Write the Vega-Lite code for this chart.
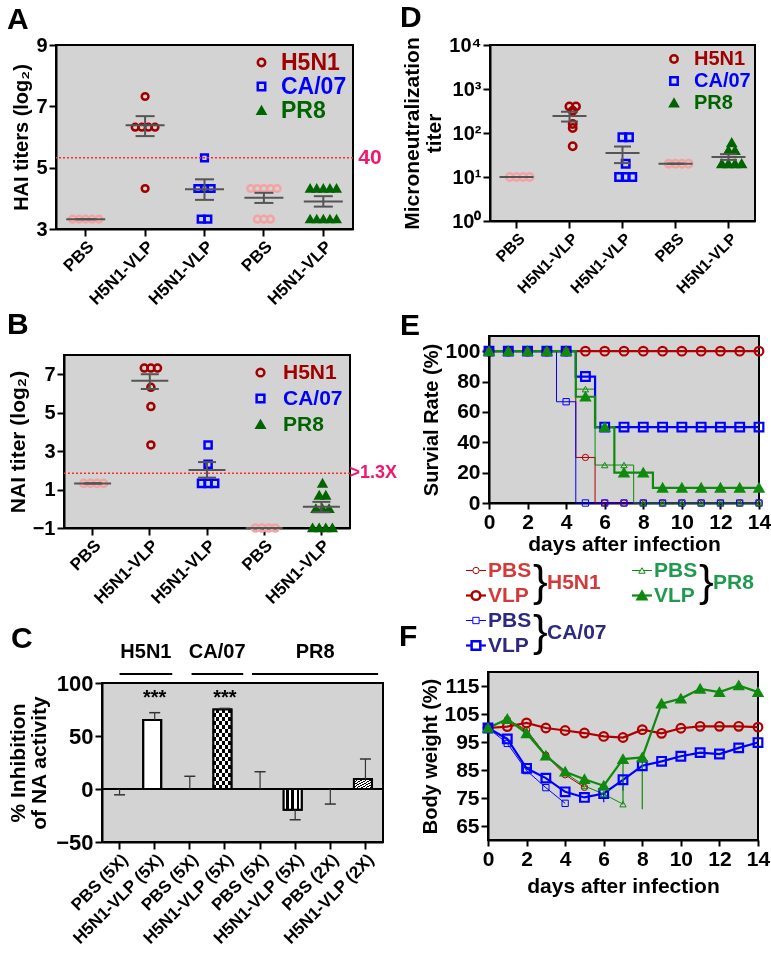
{
"$schema": "https://vega.github.io/schema/vega-lite/v6.json",
"background": "white",
"padding": {"left": 5, "top": 2, "right": 0, "bottom": 5},
"config": {
 "font": "Liberation Sans",
 "view": {"stroke": "black", "strokeWidth": 2, "fill": "#D3D3D3"},
 "axis": {"domainColor": "black", "domainWidth": 2, "tickColor": "black", "tickWidth": 2, "tickSize": 7, "labelColor": "black", "labelFontWeight": "bold", "titleColor": "black", "titleFontWeight": "bold", "grid": false, "labelPadding": 2, "labelFlush": false, "labelOverlap": false},
 "title": {"fontSize": 30, "fontWeight": "bold", "anchor": "start", "frame": "group", "baseline": "alphabetic", "color": "black"}
},
"spacing": 0,
"resolve": {"scale": {"color": "independent", "stroke": "independent", "fill": "independent", "shape": "independent", "size": "independent", "strokeWidth": "independent"}, "legend": {"color": "independent", "stroke": "independent", "fill": "independent", "shape": "independent", "size": "independent", "strokeWidth": "independent"}},
"hconcat": [
{
 "spacing": 0,
 "resolve": {"scale": {"color": "independent", "stroke": "independent", "fill": "independent", "shape": "independent", "size": "independent", "strokeWidth": "independent"}, "legend": {"color": "independent", "stroke": "independent", "fill": "independent", "shape": "independent", "size": "independent", "strokeWidth": "independent"}},
 "vconcat": [
 {
 "spacing": 0,
 "resolve": {"scale": {"color": "independent", "stroke": "independent", "fill": "independent", "shape": "independent", "size": "independent", "strokeWidth": "independent"}, "legend": {"color": "independent", "stroke": "independent", "fill": "independent", "shape": "independent", "size": "independent", "strokeWidth": "independent"}},
 "hconcat": [
 {"width": 1, "height": 1, "view": {"stroke": null, "fill": null}, "data": {"values": [{}]}, "mark": {"type": "point", "opacity": 0, "size": 0, "strokeWidth": 0}, "encoding": {}},
 {
  "width": 297, "height": 184,
  "title": {"text": "A", "dx": -49, "offset": 0},
  "layer": [
   {
    "data": {"values": [
     {"g":"1","s":"PBS","v":3.32},{"g":"1","s":"PBS","v":3.32},{"g":"1","s":"PBS","v":3.32},{"g":"1","s":"PBS","v":3.32},{"g":"1","s":"PBS","v":3.32},
     {"g":"2","s":"H5N1","v":7.32},{"g":"2","s":"H5N1","v":6.32},{"g":"2","s":"H5N1","v":6.32},{"g":"2","s":"H5N1","v":6.32},{"g":"2","s":"H5N1","v":6.32},{"g":"2","s":"H5N1","v":4.32},
     {"g":"3","s":"CA/07","v":5.32},{"g":"3","s":"CA/07","v":4.32},{"g":"3","s":"CA/07","v":4.32},{"g":"3","s":"CA/07","v":4.32},{"g":"3","s":"CA/07","v":3.32},{"g":"3","s":"CA/07","v":3.32},
     {"g":"4","s":"PBS","v":4.32},{"g":"4","s":"PBS","v":4.32},{"g":"4","s":"PBS","v":4.32},{"g":"4","s":"PBS","v":4.32},{"g":"4","s":"PBS","v":4.32},{"g":"4","s":"PBS","v":3.32},{"g":"4","s":"PBS","v":3.32},{"g":"4","s":"PBS","v":3.32},
     {"g":"5","s":"PR8","v":4.32},{"g":"5","s":"PR8","v":4.32},{"g":"5","s":"PR8","v":4.32},{"g":"5","s":"PR8","v":4.32},{"g":"5","s":"PR8","v":4.32},{"g":"5","s":"PR8","v":3.32},{"g":"5","s":"PR8","v":3.32},{"g":"5","s":"PR8","v":3.32},{"g":"5","s":"PR8","v":3.32},{"g":"5","s":"PR8","v":3.32}
    ]},
    "transform": [
     {"window": [{"op": "row_number", "as": "rk"}], "groupby": ["g", "v"]},
     {"joinaggregate": [{"op": "count", "as": "n"}], "groupby": ["g", "v"]},
     {"calculate": "datum.rk - (datum.n + 1) / 2", "as": "off"}
    ],
    "mark": {"type": "point", "size": 45, "strokeWidth": 2.5, "opacity": 1},
    "encoding": {
     "x": {"field": "g", "type": "nominal", "scale": {"type": "band", "domain": ["1","2","3","4","5"], "paddingInner": 0, "paddingOuter": 0}, "axis": {"title": null, "labelAngle": -45, "labelFontSize": 17, "labelExpr": "['PBS','H5N1-VLP','H5N1-VLP','PBS','H5N1-VLP'][toNumber(datum.value)-1]"}},
     "xOffset": {"field": "off", "type": "quantitative", "scale": {"domain": [-4.5, 4.5], "nice": false, "zero": false}},
     "y": {"field": "v", "type": "quantitative", "scale": {"domain": [3, 9], "nice": false, "zero": false}, "axis": {"title": "HAI titers (log₂)", "values": [3,4,5,6,7,8,9], "labelOverlap": false, "labelFontSize": 20, "titleFontSize": 20, "titlePadding": 4}},
     "shape": {"field": "s", "type": "nominal", "scale": {"domain": ["H5N1","CA/07","PR8","PBS"], "range": ["circle","square","triangle-up","circle"]}, "legend": {"title": null, "orient": "top-right", "offset": 6, "padding": 0, "values": ["H5N1","CA/07","PR8"], "labelFontSize": 23, "labelFontWeight": "bold", "labelColor": {"expr": "datum.label == 'H5N1' ? '#A00000' : datum.label == 'CA/07' ? '#0000FF' : '#006400'"}, "symbolSize": 55, "symbolStrokeWidth": 2.5, "symbolOpacity": 1, "rowPadding": 0, "labelOffset": 8}},
     "stroke": {"field": "s", "type": "nominal", "scale": {"domain": ["H5N1","CA/07","PR8","PBS"], "range": ["#A00000","#0000FF","#006400","#F4A3A3"]}, "legend": {"title": null, "orient": "top-right", "offset": 6, "padding": 0, "values": ["H5N1","CA/07","PR8"], "labelFontSize": 23, "labelFontWeight": "bold", "labelColor": {"expr": "datum.label == 'H5N1' ? '#A00000' : datum.label == 'CA/07' ? '#0000FF' : '#006400'"}, "symbolSize": 55, "symbolStrokeWidth": 2.5, "symbolOpacity": 1, "rowPadding": 0, "labelOffset": 8}},
     "fill": {"field": "s", "type": "nominal", "scale": {"domain": ["H5N1","CA/07","PR8","PBS"], "range": ["transparent","transparent","#006400","transparent"]}, "legend": {"title": null, "orient": "top-right", "offset": 6, "padding": 0, "values": ["H5N1","CA/07","PR8"], "labelFontSize": 23, "labelFontWeight": "bold", "labelColor": {"expr": "datum.label == 'H5N1' ? '#A00000' : datum.label == 'CA/07' ? '#0000FF' : '#006400'"}, "symbolSize": 55, "symbolStrokeWidth": 2.5, "symbolOpacity": 1, "rowPadding": 0, "labelOffset": 8}}
    }
   },
   {"data": {"values": [{}]}, "mark": {"type": "rule", "color": "#FF2A2A", "strokeWidth": 1.5, "strokeDash": [2, 2]}, "encoding": {"y": {"datum": 5.32, "type": "quantitative", "scale": {"domain": [3, 9], "nice": false, "zero": false}}}},
   {"data": {"values": [{}]}, "mark": {"type": "text", "align": "left", "baseline": "middle", "dx": 35, "fontSize": 21, "fontWeight": "bold", "color": "#F0186E"}, "encoding": {"x": {"datum": "5", "type": "nominal"}, "y": {"datum": 5.32, "type": "quantitative", "scale": {"domain": [3, 9], "nice": false, "zero": false}}, "text": {"value": "40"}}},
   {
    "data": {"values": [{"g":"1","m":3.32,"lo":3.32,"hi":3.32},{"g":"2","m":6.38,"lo":6.03,"hi":6.68},{"g":"3","m":4.3,"lo":3.95,"hi":4.62},{"g":"4","m":4.02,"lo":3.85,"hi":4.18},{"g":"5","m":3.9,"lo":3.73,"hi":4.07}]},
    "layer": [
     {"mark": {"type": "rule", "color": "#555555", "strokeWidth": 2}, "encoding": {"x": {"field": "g", "type": "nominal"}, "y": {"field": "lo", "type": "quantitative", "scale": {"domain": [3, 9], "nice": false, "zero": false}}, "y2": {"field": "hi"}}},
     {"mark": {"type": "tick", "orient": "horizontal", "size": 39, "thickness": 2, "color": "#555555", "opacity": 1}, "encoding": {"x": {"field": "g", "type": "nominal"}, "y": {"field": "m", "type": "quantitative", "scale": {"domain": [3, 9], "nice": false, "zero": false}}}},
     {"mark": {"type": "tick", "orient": "horizontal", "size": 19, "thickness": 2, "color": "#555555", "opacity": 1}, "encoding": {"x": {"field": "g", "type": "nominal"}, "y": {"field": "lo", "type": "quantitative", "scale": {"domain": [3, 9], "nice": false, "zero": false}}}},
     {"mark": {"type": "tick", "orient": "horizontal", "size": 19, "thickness": 2, "color": "#555555", "opacity": 1}, "encoding": {"x": {"field": "g", "type": "nominal"}, "y": {"field": "hi", "type": "quantitative", "scale": {"domain": [3, 9], "nice": false, "zero": false}}}}
    ]
   }
  ]
 }
 ]
 },
 {
 "spacing": 0,
 "resolve": {"scale": {"color": "independent", "stroke": "independent", "fill": "independent", "shape": "independent", "size": "independent", "strokeWidth": "independent"}, "legend": {"color": "independent", "stroke": "independent", "fill": "independent", "shape": "independent", "size": "independent", "strokeWidth": "independent"}},
 "hconcat": [
 {"width": 1, "height": 1, "view": {"stroke": null, "fill": null}, "data": {"values": [{}]}, "mark": {"type": "point", "opacity": 0, "size": 0, "strokeWidth": 0}, "encoding": {}},
 {
  "width": 286, "height": 173,
  "title": {"text": "B", "dx": -57, "offset": 15},
  "layer": [
   {
    "data": {"values": [
     {"g":"1","s":"PBS","v":1.32},{"g":"1","s":"PBS","v":1.32},{"g":"1","s":"PBS","v":1.32},{"g":"1","s":"PBS","v":1.32},
     {"g":"2","s":"H5N1","v":7.32},{"g":"2","s":"H5N1","v":7.32},{"g":"2","s":"H5N1","v":7.32},{"g":"2","s":"H5N1","v":6.32},{"g":"2","s":"H5N1","v":5.32},{"g":"2","s":"H5N1","v":3.32},
     {"g":"3","s":"CA/07","v":3.32},{"g":"3","s":"CA/07","v":2.32},{"g":"3","s":"CA/07","v":1.32},{"g":"3","s":"CA/07","v":1.32},{"g":"3","s":"CA/07","v":1.32},
     {"g":"4","s":"PBS","v":-1},{"g":"4","s":"PBS","v":-1},{"g":"4","s":"PBS","v":-1},{"g":"4","s":"PBS","v":-1},
     {"g":"5","s":"PR8","v":1.32},{"g":"5","s":"PR8","v":0.7},{"g":"5","s":"PR8","v":0.7},{"g":"5","s":"PR8","v":0},{"g":"5","s":"PR8","v":0},{"g":"5","s":"PR8","v":0},{"g":"5","s":"PR8","v":-1},{"g":"5","s":"PR8","v":-1},{"g":"5","s":"PR8","v":-1},{"g":"5","s":"PR8","v":-1}
    ]},
    "transform": [
     {"window": [{"op": "row_number", "as": "rk"}], "groupby": ["g", "v"]},
     {"joinaggregate": [{"op": "count", "as": "n"}], "groupby": ["g", "v"]},
     {"calculate": "datum.rk - (datum.n + 1) / 2", "as": "off"}
    ],
    "mark": {"type": "point", "size": 50, "strokeWidth": 2.5, "opacity": 1},
    "encoding": {
     "x": {"field": "g", "type": "nominal", "scale": {"type": "band", "domain": ["1","2","3","4","5"], "paddingInner": 0, "paddingOuter": 0}, "axis": {"title": null, "labelAngle": -45, "labelFontSize": 17, "labelExpr": "['PBS','H5N1-VLP','H5N1-VLP','PBS','H5N1-VLP'][toNumber(datum.value)-1]"}},
     "xOffset": {"field": "off", "type": "quantitative", "scale": {"domain": [-3.2, 3.2], "nice": false, "zero": false}},
     "y": {"field": "v", "type": "quantitative", "scale": {"domain": [-1, 8], "nice": false, "zero": false}, "axis": {"title": "NAI titer (log₂)", "values": [-1,0,1,2,3,4,5,6,7,8], "labelOverlap": false, "labelFontSize": 20, "titleFontSize": 21, "titlePadding": 4}},
     "shape": {"field": "s", "type": "nominal", "scale": {"domain": ["H5N1","CA/07","PR8","PBS"], "range": ["circle","square","triangle-up","circle"]}, "legend": {"title": null, "orient": "top-right", "offset": 7, "padding": 0, "values": ["H5N1","CA/07","PR8"], "labelFontSize": 21, "labelFontWeight": "bold", "labelColor": {"expr": "datum.label == 'H5N1' ? '#A00000' : datum.label == 'CA/07' ? '#0000FF' : '#006400'"}, "symbolSize": 60, "symbolStrokeWidth": 2.5, "symbolOpacity": 1, "rowPadding": 4, "labelOffset": 12}},
     "stroke": {"field": "s", "type": "nominal", "scale": {"domain": ["H5N1","CA/07","PR8","PBS"], "range": ["#A00000","#0000FF","#006400","#F4A3A3"]}, "legend": {"title": null, "orient": "top-right", "offset": 7, "padding": 0, "values": ["H5N1","CA/07","PR8"], "labelFontSize": 21, "labelFontWeight": "bold", "labelColor": {"expr": "datum.label == 'H5N1' ? '#A00000' : datum.label == 'CA/07' ? '#0000FF' : '#006400'"}, "symbolSize": 60, "symbolStrokeWidth": 2.5, "symbolOpacity": 1, "rowPadding": 4, "labelOffset": 12}},
     "fill": {"field": "s", "type": "nominal", "scale": {"domain": ["H5N1","CA/07","PR8","PBS"], "range": ["transparent","transparent","#006400","transparent"]}, "legend": {"title": null, "orient": "top-right", "offset": 7, "padding": 0, "values": ["H5N1","CA/07","PR8"], "labelFontSize": 21, "labelFontWeight": "bold", "labelColor": {"expr": "datum.label == 'H5N1' ? '#A00000' : datum.label == 'CA/07' ? '#0000FF' : '#006400'"}, "symbolSize": 60, "symbolStrokeWidth": 2.5, "symbolOpacity": 1, "rowPadding": 4, "labelOffset": 12}}
    }
   },
   {"data": {"values": [{}]}, "mark": {"type": "rule", "color": "#FF2A2A", "strokeWidth": 1.5, "strokeDash": [2, 2]}, "encoding": {"y": {"datum": 1.85, "type": "quantitative", "scale": {"domain": [-1, 8], "nice": false, "zero": false}}}},
   {"data": {"values": [{}]}, "mark": {"type": "text", "align": "left", "baseline": "middle", "dx": 28, "fontSize": 18, "fontWeight": "bold", "color": "#F0186E"}, "encoding": {"x": {"datum": "5", "type": "nominal"}, "y": {"datum": 1.85, "type": "quantitative", "scale": {"domain": [-1, 8], "nice": false, "zero": false}}, "text": {"value": ">1.3X"}}},
   {
    "data": {"values": [{"g":"1","m":1.32,"lo":1.32,"hi":1.32},{"g":"2","m":6.66,"lo":6.23,"hi":7.0},{"g":"3","m":2.02,"lo":1.62,"hi":2.43},{"g":"4","m":-1,"lo":-1,"hi":-1},{"g":"5","m":0.1,"lo":-0.18,"hi":0.36}]},
    "layer": [
     {"mark": {"type": "rule", "color": "#555555", "strokeWidth": 2}, "encoding": {"x": {"field": "g", "type": "nominal"}, "y": {"field": "lo", "type": "quantitative", "scale": {"domain": [-1, 8], "nice": false, "zero": false}}, "y2": {"field": "hi"}}},
     {"mark": {"type": "tick", "orient": "horizontal", "size": 37, "thickness": 2, "color": "#555555", "opacity": 1}, "encoding": {"x": {"field": "g", "type": "nominal"}, "y": {"field": "m", "type": "quantitative", "scale": {"domain": [-1, 8], "nice": false, "zero": false}}}},
     {"mark": {"type": "tick", "orient": "horizontal", "size": 18, "thickness": 2, "color": "#555555", "opacity": 1}, "encoding": {"x": {"field": "g", "type": "nominal"}, "y": {"field": "lo", "type": "quantitative", "scale": {"domain": [-1, 8], "nice": false, "zero": false}}}},
     {"mark": {"type": "tick", "orient": "horizontal", "size": 18, "thickness": 2, "color": "#555555", "opacity": 1}, "encoding": {"x": {"field": "g", "type": "nominal"}, "y": {"field": "hi", "type": "quantitative", "scale": {"domain": [-1, 8], "nice": false, "zero": false}}}}
    ]
   }
  ]
 }
 ]
 },
 {
 "spacing": 0,
 "resolve": {"scale": {"color": "independent", "stroke": "independent", "fill": "independent", "shape": "independent", "size": "independent", "strokeWidth": "independent"}, "legend": {"color": "independent", "stroke": "independent", "fill": "independent", "shape": "independent", "size": "independent", "strokeWidth": "independent"}},
 "hconcat": [
 {"width": 1, "height": 1, "view": {"stroke": null, "fill": null}, "data": {"values": [{}]}, "mark": {"type": "point", "opacity": 0, "size": 0, "strokeWidth": 0}, "encoding": {}},
 {
  "spacing": -4,
  "resolve": {"scale": {"color": "independent", "stroke": "independent", "fill": "independent", "shape": "independent", "size": "independent", "strokeWidth": "independent"}},
  "vconcat": [
   {
    "width": 281, "height": 66,
    "view": {"stroke": null, "fill": null},
    "title": {"text": "C", "dx": -91, "offset": -46},
    "data": {"values": [{"lab":"H5N1","a":0.5,"b":2.0,"m":1.25},{"lab":"CA/07","a":2.55,"b":4.02,"m":3.28},{"lab":"PR8","a":4.27,"b":7.86,"m":6.07}]},
    "layer": [
     {"mark": {"type": "rule", "strokeWidth": 2, "color": "black"}, "encoding": {"x": {"field": "a", "type": "quantitative", "scale": {"domain": [0, 8], "nice": false, "zero": false}, "axis": null}, "x2": {"field": "b"}, "y": {"datum": 0, "type": "quantitative", "scale": {"domain": [0, 1]}, "axis": null}}},
     {"mark": {"type": "text", "fontSize": 20, "fontWeight": "bold", "baseline": "alphabetic", "dy": -16, "color": "black"}, "encoding": {"x": {"field": "m", "type": "quantitative", "scale": {"domain": [0, 8], "nice": false, "zero": false}, "axis": null}, "y": {"datum": 0, "type": "quantitative", "scale": {"domain": [0, 1]}, "axis": null}, "text": {"field": "lab"}}}
    ]
   },
   {
    "width": 281, "height": 159,
    "data": {"values": [{"id":"1","v":0,"e":-5.5},{"id":"2","v":65,"e":72,"sig":"***"},{"id":"3","v":0,"e":12},{"id":"4","v":75,"e":76,"sig":"***"},{"id":"5","v":0,"e":16.3},{"id":"6","v":-19.5,"e":-29},{"id":"7","v":0,"e":-14.2},{"id":"8","v":9.5,"e":28.3}]},
    "layer": [
     {"transform": [{"filter": "datum.v != 0"}], "mark": {"type": "bar", "fill": "white", "stroke": "black", "strokeWidth": 2},
      "encoding": {
       "x": {"field": "id", "type": "nominal", "scale": {"type": "band", "domain": ["1","2","3","4","5","6","7","8"], "paddingInner": 0.345, "paddingOuter": 0.1725}, "axis": {"title": null, "labelAngle": -45, "labelFontSize": 17, "labelExpr": "['PBS (5X)','H5N1-VLP (5X)','PBS (5X)','H5N1-VLP (5X)','PBS (5X)','H5N1-VLP (5X)','PBS (2X)','H5N1-VLP (2X)'][toNumber(datum.value)-1]"}},
       "y": {"field": "v", "type": "quantitative", "scale": {"domain": [-50, 100], "nice": false, "zero": false}, "axis": {"title": ["% Inhibition", "of NA activity"], "values": [-50, 0, 50, 100], "labelOverlap": false, "labelFontSize": 22, "titleFontSize": 21, "titleLineHeight": 21, "titlePadding": 6}}
      }},
     {"transform": [{"filter": "datum.id == '4'"}], "mark": {"type": "bar", "strokeWidth": 0, "fill": {"gradient": "linear", "x1": 0, "y1": 0, "x2": 1, "y2": 0, "stops": [{"offset": 0, "color": "black"}, {"offset": 0.1667, "color": "black"}, {"offset": 0.1667, "color": "white"}, {"offset": 0.3333, "color": "white"}, {"offset": 0.3333, "color": "black"}, {"offset": 0.5, "color": "black"}, {"offset": 0.5, "color": "white"}, {"offset": 0.6667, "color": "white"}, {"offset": 0.6667, "color": "black"}, {"offset": 0.8333, "color": "black"}, {"offset": 0.8333, "color": "white"}, {"offset": 1, "color": "white"}]}},
      "encoding": {"x": {"field": "id", "type": "nominal"}, "y": {"field": "v", "type": "quantitative", "scale": {"domain": [-50, 100], "nice": false, "zero": false}}}},
     {"transform": [{"filter": "datum.id == '4'"}], "mark": {"type": "bar", "strokeWidth": 0, "blend": "difference", "fill": {"gradient": "linear", "x1": 0, "y1": 0, "x2": 0, "y2": 1, "stops": [{"offset": 0, "color": "white"}, {"offset": 0.05, "color": "white"}, {"offset": 0.05, "color": "rgba(0,0,0,0)"}, {"offset": 0.1, "color": "rgba(0,0,0,0)"}, {"offset": 0.1, "color": "white"}, {"offset": 0.15, "color": "white"}, {"offset": 0.15, "color": "rgba(0,0,0,0)"}, {"offset": 0.2, "color": "rgba(0,0,0,0)"}, {"offset": 0.2, "color": "white"}, {"offset": 0.25, "color": "white"}, {"offset": 0.25, "color": "rgba(0,0,0,0)"}, {"offset": 0.3, "color": "rgba(0,0,0,0)"}, {"offset": 0.3, "color": "white"}, {"offset": 0.35, "color": "white"}, {"offset": 0.35, "color": "rgba(0,0,0,0)"}, {"offset": 0.4, "color": "rgba(0,0,0,0)"}, {"offset": 0.4, "color": "white"}, {"offset": 0.45, "color": "white"}, {"offset": 0.45, "color": "rgba(0,0,0,0)"}, {"offset": 0.5, "color": "rgba(0,0,0,0)"}, {"offset": 0.5, "color": "white"}, {"offset": 0.55, "color": "white"}, {"offset": 0.55, "color": "rgba(0,0,0,0)"}, {"offset": 0.6, "color": "rgba(0,0,0,0)"}, {"offset": 0.6, "color": "white"}, {"offset": 0.65, "color": "white"}, {"offset": 0.65, "color": "rgba(0,0,0,0)"}, {"offset": 0.7, "color": "rgba(0,0,0,0)"}, {"offset": 0.7, "color": "white"}, {"offset": 0.75, "color": "white"}, {"offset": 0.75, "color": "rgba(0,0,0,0)"}, {"offset": 0.8, "color": "rgba(0,0,0,0)"}, {"offset": 0.8, "color": "white"}, {"offset": 0.85, "color": "white"}, {"offset": 0.85, "color": "rgba(0,0,0,0)"}, {"offset": 0.9, "color": "rgba(0,0,0,0)"}, {"offset": 0.9, "color": "white"}, {"offset": 0.95, "color": "white"}, {"offset": 0.95, "color": "rgba(0,0,0,0)"}, {"offset": 1, "color": "rgba(0,0,0,0)"}]}},
      "encoding": {"x": {"field": "id", "type": "nominal"}, "y": {"field": "v", "type": "quantitative", "scale": {"domain": [-50, 100], "nice": false, "zero": false}}}},
     {"transform": [{"filter": "datum.id == '6'"}], "mark": {"type": "bar", "strokeWidth": 0, "fill": {"gradient": "linear", "x1": 0, "y1": 0, "x2": 1, "y2": 0, "stops": [{"offset": 0, "color": "white"}, {"offset": 0.143, "color": "white"}, {"offset": 0.143, "color": "black"}, {"offset": 0.286, "color": "black"}, {"offset": 0.286, "color": "white"}, {"offset": 0.429, "color": "white"}, {"offset": 0.429, "color": "black"}, {"offset": 0.571, "color": "black"}, {"offset": 0.571, "color": "white"}, {"offset": 0.714, "color": "white"}, {"offset": 0.714, "color": "black"}, {"offset": 0.857, "color": "black"}, {"offset": 0.857, "color": "white"}, {"offset": 1, "color": "white"}]}},
      "encoding": {"x": {"field": "id", "type": "nominal"}, "y": {"field": "v", "type": "quantitative", "scale": {"domain": [-50, 100], "nice": false, "zero": false}}}},
     {"transform": [{"filter": "datum.id == '8'"}], "mark": {"type": "bar", "strokeWidth": 0, "fill": {"gradient": "linear", "x1": 0, "y1": 0, "x2": 1, "y2": 1, "stops": [{"offset": 0, "color": "black"}, {"offset": 0.05, "color": "black"}, {"offset": 0.05, "color": "white"}, {"offset": 0.125, "color": "white"}, {"offset": 0.125, "color": "black"}, {"offset": 0.175, "color": "black"}, {"offset": 0.175, "color": "white"}, {"offset": 0.25, "color": "white"}, {"offset": 0.25, "color": "black"}, {"offset": 0.3, "color": "black"}, {"offset": 0.3, "color": "white"}, {"offset": 0.375, "color": "white"}, {"offset": 0.375, "color": "black"}, {"offset": 0.425, "color": "black"}, {"offset": 0.425, "color": "white"}, {"offset": 0.5, "color": "white"}, {"offset": 0.5, "color": "black"}, {"offset": 0.55, "color": "black"}, {"offset": 0.55, "color": "white"}, {"offset": 0.625, "color": "white"}, {"offset": 0.625, "color": "black"}, {"offset": 0.675, "color": "black"}, {"offset": 0.675, "color": "white"}, {"offset": 0.75, "color": "white"}, {"offset": 0.75, "color": "black"}, {"offset": 0.8, "color": "black"}, {"offset": 0.8, "color": "white"}, {"offset": 0.875, "color": "white"}, {"offset": 0.875, "color": "black"}, {"offset": 0.925, "color": "black"}, {"offset": 0.925, "color": "white"}, {"offset": 1, "color": "white"}]}},
      "encoding": {"x": {"field": "id", "type": "nominal"}, "y": {"field": "v", "type": "quantitative", "scale": {"domain": [-50, 100], "nice": false, "zero": false}}}},
     {"transform": [{"filter": "datum.v != 0"}], "mark": {"type": "bar", "fill": "transparent", "stroke": "black", "strokeWidth": 2},
      "encoding": {"x": {"field": "id", "type": "nominal"}, "y": {"field": "v", "type": "quantitative", "scale": {"domain": [-50, 100], "nice": false, "zero": false}}}},
     {"mark": {"type": "rule", "color": "black", "strokeWidth": 2}, "encoding": {"y": {"datum": 0, "type": "quantitative", "scale": {"domain": [-50, 100], "nice": false, "zero": false}}}},
     {"mark": {"type": "rule", "color": "#333333", "strokeWidth": 1.2}, "encoding": {"x": {"field": "id", "type": "nominal"}, "y": {"field": "v", "type": "quantitative", "scale": {"domain": [-50, 100], "nice": false, "zero": false}}, "y2": {"field": "e"}}},
     {"mark": {"type": "tick", "orient": "horizontal", "size": 11, "thickness": 1.5, "color": "#333333", "opacity": 1}, "encoding": {"x": {"field": "id", "type": "nominal"}, "y": {"field": "e", "type": "quantitative", "scale": {"domain": [-50, 100], "nice": false, "zero": false}}}},
     {"transform": [{"filter": "datum.sig"}], "mark": {"type": "text", "fontSize": 20, "fontWeight": "bold", "baseline": "middle", "color": "black"}, "encoding": {"x": {"field": "id", "type": "nominal"}, "y": {"datum": 86, "type": "quantitative", "scale": {"domain": [-50, 100], "nice": false, "zero": false}}, "text": {"field": "sig"}}}
    ]
   }
  ]
 }
 ]
 }
 ]
},
{
 "spacing": 12,
 "resolve": {"scale": {"color": "independent", "stroke": "independent", "fill": "independent", "shape": "independent", "size": "independent", "strokeWidth": "independent"}, "legend": {"color": "independent", "stroke": "independent", "fill": "independent", "shape": "independent", "size": "independent", "strokeWidth": "independent"}},
 "vconcat": [
 {
 "spacing": 0,
 "resolve": {"scale": {"color": "independent", "stroke": "independent", "fill": "independent", "shape": "independent", "size": "independent", "strokeWidth": "independent"}, "legend": {"color": "independent", "stroke": "independent", "fill": "independent", "shape": "independent", "size": "independent", "strokeWidth": "independent"}},
 "hconcat": [
 {"width": 1, "height": 1, "view": {"stroke": null, "fill": null}, "data": {"values": [{}]}, "mark": {"type": "point", "opacity": 0, "size": 0, "strokeWidth": 0}, "encoding": {}},
 {
  "width": 265, "height": 176,
  "title": {"text": "D", "dx": -90, "offset": 2},
  "layer": [
   {
    "data": {"values": [
     {"g":"1","s":"PBS","v":10},{"g":"1","s":"PBS","v":10},{"g":"1","s":"PBS","v":10},{"g":"1","s":"PBS","v":10},
     {"g":"2","s":"H5N1","v":400},{"g":"2","s":"H5N1","v":400},{"g":"2","s":"H5N1","v":320},{"g":"2","s":"H5N1","v":160},{"g":"2","s":"H5N1","v":130},{"g":"2","s":"H5N1","v":50},
     {"g":"3","s":"CA/07","v":80},{"g":"3","s":"CA/07","v":80},{"g":"3","s":"CA/07","v":20},{"g":"3","s":"CA/07","v":10},{"g":"3","s":"CA/07","v":10},{"g":"3","s":"CA/07","v":10},
     {"g":"4","s":"PBS","v":20},{"g":"4","s":"PBS","v":20},{"g":"4","s":"PBS","v":20},{"g":"4","s":"PBS","v":20},
     {"g":"5","s":"PR8","v":40},{"g":"5","s":"PR8","v":40},{"g":"5","s":"PR8","v":60},{"g":"5","s":"PR8","v":20},{"g":"5","s":"PR8","v":20},{"g":"5","s":"PR8","v":20},{"g":"5","s":"PR8","v":20}
    ]},
    "transform": [
     {"window": [{"op": "row_number", "as": "rk"}], "groupby": ["g", "v"]},
     {"joinaggregate": [{"op": "count", "as": "n"}], "groupby": ["g", "v"]},
     {"calculate": "datum.rk - (datum.n + 1) / 2", "as": "off"}
    ],
    "mark": {"type": "point", "size": 55, "strokeWidth": 2.5, "opacity": 1},
    "encoding": {
     "x": {"field": "g", "type": "nominal", "scale": {"type": "band", "domain": ["1","2","3","4","5"], "paddingInner": 0, "paddingOuter": 0}, "axis": {"title": null, "labelAngle": -45, "labelFontSize": 16, "labelExpr": "['PBS','H5N1-VLP','H5N1-VLP','PBS','H5N1-VLP'][toNumber(datum.value)-1]"}},
     "xOffset": {"field": "off", "type": "quantitative", "scale": {"domain": [-3, 3], "nice": false, "zero": false}},
     "y": {"field": "v", "type": "quantitative", "scale": {"type": "log", "domain": [1, 10000], "nice": false}, "axis": {"title": ["Microneutralization", "titer"], "values": [1, 10, 100, 1000, 10000], "labelOverlap": false, "labelExpr": "'10' + ['⁰','¹','²','³','⁴'][round(log(datum.value)/LN10)]", "labelFontSize": 20, "titleFontSize": 21, "titleLineHeight": 22, "titlePadding": 4}},
     "shape": {"field": "s", "type": "nominal", "scale": {"domain": ["H5N1","CA/07","PR8","PBS"], "range": ["circle","square","triangle-up","circle"]}, "legend": {"title": null, "orient": "top-right", "offset": 4, "padding": 0, "values": ["H5N1","CA/07","PR8"], "labelFontSize": 20, "labelFontWeight": "bold", "labelColor": {"expr": "datum.label == 'H5N1' ? '#A00000' : datum.label == 'CA/07' ? '#0000FF' : '#006400'"}, "symbolSize": 55, "symbolStrokeWidth": 2.5, "symbolOpacity": 1, "rowPadding": 2, "labelOffset": 10}},
     "stroke": {"field": "s", "type": "nominal", "scale": {"domain": ["H5N1","CA/07","PR8","PBS"], "range": ["#A00000","#0000FF","#006400","#F4A3A3"]}, "legend": {"title": null, "orient": "top-right", "offset": 4, "padding": 0, "values": ["H5N1","CA/07","PR8"], "labelFontSize": 20, "labelFontWeight": "bold", "labelColor": {"expr": "datum.label == 'H5N1' ? '#A00000' : datum.label == 'CA/07' ? '#0000FF' : '#006400'"}, "symbolSize": 55, "symbolStrokeWidth": 2.5, "symbolOpacity": 1, "rowPadding": 2, "labelOffset": 10}},
     "fill": {"field": "s", "type": "nominal", "scale": {"domain": ["H5N1","CA/07","PR8","PBS"], "range": ["transparent","transparent","#006400","transparent"]}, "legend": {"title": null, "orient": "top-right", "offset": 4, "padding": 0, "values": ["H5N1","CA/07","PR8"], "labelFontSize": 20, "labelFontWeight": "bold", "labelColor": {"expr": "datum.label == 'H5N1' ? '#A00000' : datum.label == 'CA/07' ? '#0000FF' : '#006400'"}, "symbolSize": 55, "symbolStrokeWidth": 2.5, "symbolOpacity": 1, "rowPadding": 2, "labelOffset": 10}}
    }
   },
   {
    "data": {"values": [{"g":"1","m":10,"lo":10,"hi":10},{"g":"2","m":243,"lo":182,"hi":304},{"g":"3","m":35,"lo":20.7,"hi":49.3},{"g":"4","m":20,"lo":20,"hi":20},{"g":"5","m":28.5,"lo":24.5,"hi":33}]},
    "layer": [
     {"mark": {"type": "rule", "color": "#555555", "strokeWidth": 2}, "encoding": {"x": {"field": "g", "type": "nominal"}, "y": {"field": "lo", "type": "quantitative", "scale": {"type": "log", "domain": [1, 10000], "nice": false}}, "y2": {"field": "hi"}}},
     {"mark": {"type": "tick", "orient": "horizontal", "size": 34, "thickness": 2, "color": "#555555", "opacity": 1}, "encoding": {"x": {"field": "g", "type": "nominal"}, "y": {"field": "m", "type": "quantitative", "scale": {"type": "log", "domain": [1, 10000], "nice": false}}}},
     {"mark": {"type": "tick", "orient": "horizontal", "size": 17, "thickness": 2, "color": "#555555", "opacity": 1}, "encoding": {"x": {"field": "g", "type": "nominal"}, "y": {"field": "lo", "type": "quantitative", "scale": {"type": "log", "domain": [1, 10000], "nice": false}}}},
     {"mark": {"type": "tick", "orient": "horizontal", "size": 17, "thickness": 2, "color": "#555555", "opacity": 1}, "encoding": {"x": {"field": "g", "type": "nominal"}, "y": {"field": "hi", "type": "quantitative", "scale": {"type": "log", "domain": [1, 10000], "nice": false}}}}
    ]
   }
  ]
 }
 ]
 },
 {
  "spacing": 3,
  "resolve": {"scale": {"color": "independent", "stroke": "independent", "fill": "independent", "shape": "independent", "size": "independent", "strokeWidth": "independent"}, "legend": {"color": "independent", "stroke": "independent", "fill": "independent", "shape": "independent", "size": "independent", "strokeWidth": "independent"}},
  "vconcat": [
  {
  "spacing": 0,
  "resolve": {"scale": {"color": "independent", "stroke": "independent", "fill": "independent", "shape": "independent", "size": "independent", "strokeWidth": "independent"}, "legend": {"color": "independent", "stroke": "independent", "fill": "independent", "shape": "independent", "size": "independent", "strokeWidth": "independent"}},
  "hconcat": [
  {"width": 1, "height": 1, "view": {"stroke": null, "fill": null}, "data": {"values": [{}]}, "mark": {"type": "point", "opacity": 0, "size": 0, "strokeWidth": 0}, "encoding": {}},
  {
   "width": 270, "height": 167,
   "title": {"text": "E", "dx": -89, "offset": -5},
   "data": {"values": [
    {"grp":"H5N1","trt":"PBS","d":0,"p":100},{"grp":"H5N1","trt":"PBS","d":1,"p":100},{"grp":"H5N1","trt":"PBS","d":2,"p":100},{"grp":"H5N1","trt":"PBS","d":3,"p":100},{"grp":"H5N1","trt":"PBS","d":4,"p":100},{"grp":"H5N1","trt":"PBS","d":5,"p":30},{"grp":"H5N1","trt":"PBS","d":6,"p":0},{"grp":"H5N1","trt":"PBS","d":7,"p":0},{"grp":"H5N1","trt":"PBS","d":8,"p":0},{"grp":"H5N1","trt":"PBS","d":9,"p":0},{"grp":"H5N1","trt":"PBS","d":10,"p":0},{"grp":"H5N1","trt":"PBS","d":11,"p":0},{"grp":"H5N1","trt":"PBS","d":12,"p":0},{"grp":"H5N1","trt":"PBS","d":13,"p":0},{"grp":"H5N1","trt":"PBS","d":14,"p":0},
    {"grp":"CA/07","trt":"PBS","d":0,"p":100},{"grp":"CA/07","trt":"PBS","d":1,"p":100},{"grp":"CA/07","trt":"PBS","d":2,"p":100},{"grp":"CA/07","trt":"PBS","d":3,"p":100},{"grp":"CA/07","trt":"PBS","d":4,"p":66.7},{"grp":"CA/07","trt":"PBS","d":5,"p":0},{"grp":"CA/07","trt":"PBS","d":6,"p":0},{"grp":"CA/07","trt":"PBS","d":7,"p":0},{"grp":"CA/07","trt":"PBS","d":8,"p":0},{"grp":"CA/07","trt":"PBS","d":9,"p":0},{"grp":"CA/07","trt":"PBS","d":10,"p":0},{"grp":"CA/07","trt":"PBS","d":11,"p":0},{"grp":"CA/07","trt":"PBS","d":12,"p":0},{"grp":"CA/07","trt":"PBS","d":13,"p":0},{"grp":"CA/07","trt":"PBS","d":14,"p":0},
    {"grp":"PR8","trt":"PBS","d":0,"p":100},{"grp":"PR8","trt":"PBS","d":1,"p":100},{"grp":"PR8","trt":"PBS","d":2,"p":100},{"grp":"PR8","trt":"PBS","d":3,"p":100},{"grp":"PR8","trt":"PBS","d":4,"p":100},{"grp":"PR8","trt":"PBS","d":5,"p":75},{"grp":"PR8","trt":"PBS","d":6,"p":25},{"grp":"PR8","trt":"PBS","d":7,"p":25},{"grp":"PR8","trt":"PBS","d":8,"p":0},{"grp":"PR8","trt":"PBS","d":9,"p":0},{"grp":"PR8","trt":"PBS","d":10,"p":0},{"grp":"PR8","trt":"PBS","d":11,"p":0},{"grp":"PR8","trt":"PBS","d":12,"p":0},{"grp":"PR8","trt":"PBS","d":13,"p":0},{"grp":"PR8","trt":"PBS","d":14,"p":0},
    {"grp":"H5N1","trt":"VLP","d":0,"p":100},{"grp":"H5N1","trt":"VLP","d":1,"p":100},{"grp":"H5N1","trt":"VLP","d":2,"p":100},{"grp":"H5N1","trt":"VLP","d":3,"p":100},{"grp":"H5N1","trt":"VLP","d":4,"p":100},{"grp":"H5N1","trt":"VLP","d":5,"p":100},{"grp":"H5N1","trt":"VLP","d":6,"p":100},{"grp":"H5N1","trt":"VLP","d":7,"p":100},{"grp":"H5N1","trt":"VLP","d":8,"p":100},{"grp":"H5N1","trt":"VLP","d":9,"p":100},{"grp":"H5N1","trt":"VLP","d":10,"p":100},{"grp":"H5N1","trt":"VLP","d":11,"p":100},{"grp":"H5N1","trt":"VLP","d":12,"p":100},{"grp":"H5N1","trt":"VLP","d":13,"p":100},{"grp":"H5N1","trt":"VLP","d":14,"p":100},
    {"grp":"CA/07","trt":"VLP","d":0,"p":100},{"grp":"CA/07","trt":"VLP","d":1,"p":100},{"grp":"CA/07","trt":"VLP","d":2,"p":100},{"grp":"CA/07","trt":"VLP","d":3,"p":100},{"grp":"CA/07","trt":"VLP","d":4,"p":100},{"grp":"CA/07","trt":"VLP","d":5,"p":83.3},{"grp":"CA/07","trt":"VLP","d":6,"p":50},{"grp":"CA/07","trt":"VLP","d":7,"p":50},{"grp":"CA/07","trt":"VLP","d":8,"p":50},{"grp":"CA/07","trt":"VLP","d":9,"p":50},{"grp":"CA/07","trt":"VLP","d":10,"p":50},{"grp":"CA/07","trt":"VLP","d":11,"p":50},{"grp":"CA/07","trt":"VLP","d":12,"p":50},{"grp":"CA/07","trt":"VLP","d":13,"p":50},{"grp":"CA/07","trt":"VLP","d":14,"p":50},
    {"grp":"PR8","trt":"VLP","d":0,"p":100},{"grp":"PR8","trt":"VLP","d":1,"p":100},{"grp":"PR8","trt":"VLP","d":2,"p":100},{"grp":"PR8","trt":"VLP","d":3,"p":100},{"grp":"PR8","trt":"VLP","d":4,"p":100},{"grp":"PR8","trt":"VLP","d":5,"p":70},{"grp":"PR8","trt":"VLP","d":6,"p":50},{"grp":"PR8","trt":"VLP","d":7,"p":20},{"grp":"PR8","trt":"VLP","d":8,"p":20},{"grp":"PR8","trt":"VLP","d":9,"p":10},{"grp":"PR8","trt":"VLP","d":10,"p":10},{"grp":"PR8","trt":"VLP","d":11,"p":10},{"grp":"PR8","trt":"VLP","d":12,"p":10},{"grp":"PR8","trt":"VLP","d":13,"p":10},{"grp":"PR8","trt":"VLP","d":14,"p":10}
   ]},
   "encoding": {
    "x": {"field": "d", "type": "quantitative", "scale": {"domain": [0, 14], "nice": false, "zero": false}, "axis": {"title": "days after infection", "values": [0,2,4,6,8,10,12,14], "labelFontSize": 21, "titleFontSize": 21, "titlePadding": 1, "tickSize": 6}},
    "y": {"field": "p", "type": "quantitative", "scale": {"domain": [0, 110], "nice": false}, "axis": {"title": "Survial Rate (%)", "values": [0,20,40,60,80,100], "labelFontSize": 21, "titleFontSize": 20, "titlePadding": 3}}
   },
   "layer": [
    {"mark": {"type": "line", "interpolate": "step"}, "encoding": {
      "detail": {"field": "trt", "type": "nominal"},
      "stroke": {"field": "grp", "type": "nominal", "scale": {"domain": ["H5N1","CA/07","PR8"], "range": ["#B00000","#0000FF","#0F8A0F"]}, "legend": null},
      "strokeWidth": {"field": "trt", "type": "ordinal", "scale": {"domain": ["PBS","VLP"], "range": [1, 2.2]}, "legend": null}}},
    {"mark": {"type": "point", "opacity": 1}, "encoding": {
      "shape": {"field": "grp", "type": "nominal", "scale": {"domain": ["H5N1","CA/07","PR8"], "range": ["circle","square","triangle-up"]}, "legend": null},
      "stroke": {"field": "grp", "type": "nominal", "scale": {"domain": ["H5N1","CA/07","PR8"], "range": ["#B00000","#0000FF","#0F8A0F"]}, "legend": null},
      "strokeWidth": {"field": "trt", "type": "ordinal", "scale": {"domain": ["PBS","VLP"], "range": [1, 2.2]}, "legend": null},
      "size": {"field": "trt", "type": "ordinal", "scale": {"domain": ["PBS","VLP"], "range": [40, 75]}, "legend": null},
      "fill": {"condition": {"test": "datum.grp == 'PR8' && datum.trt == 'VLP'", "value": "#0F8A0F"}, "value": "transparent"}}}
   ]
  }
  ]
  },
  {
   "spacing": 11,
   "resolve": {"scale": {"color": "independent", "stroke": "independent", "fill": "independent", "shape": "independent", "size": "independent", "strokeWidth": "independent"}, "legend": {"color": "independent", "stroke": "independent", "fill": "independent", "shape": "independent", "size": "independent", "strokeWidth": "independent"}},
   "vconcat": [
    {
    "spacing": 0,
    "resolve": {"scale": {"color": "independent", "stroke": "independent", "fill": "independent", "shape": "independent", "size": "independent", "strokeWidth": "independent"}},
    "hconcat": [
    {"width": 1, "height": 1, "view": {"stroke": null, "fill": null}, "data": {"values": [{}]}, "mark": {"type": "point", "opacity": 0, "size": 0, "strokeWidth": 0}, "encoding": {}},
    {
     "width": 290, "height": 100,
     "view": {"stroke": null, "fill": null},
     "title": {"text": "F", "dx": -67, "offset": -94},
     "layer": [
      {
       "data": {"values": [{"grp":"H5N1","trt":"PBS","col":0,"row":0},{"grp":"H5N1","trt":"VLP","col":0,"row":1},{"grp":"CA/07","trt":"PBS","col":0,"row":2},{"grp":"CA/07","trt":"VLP","col":0,"row":3},{"grp":"PR8","trt":"PBS","col":1,"row":0},{"grp":"PR8","trt":"VLP","col":1,"row":1}]},
       "encoding": {
        "x": {"field": "col", "type": "quantitative", "scale": {"domain": [-0.06, 1.687], "nice": false, "zero": false}, "axis": null},
        "y": {"field": "row", "type": "quantitative", "scale": {"domain": [-0.5, 3.5], "reverse": true, "nice": false, "zero": false}, "axis": null}
       },
       "layer": [
        {"transform": [{"filter": "datum.trt == 'PBS'"}], "mark": {"type": "tick", "orient": "horizontal", "size": 20, "thickness": 1, "opacity": 1},
         "encoding": {"color": {"condition": [{"test": "datum.grp == 'H5N1'", "value": "#B00000"}, {"test": "datum.grp == 'CA/07'", "value": "#0000FF"}], "value": "#0F8A0F"}}},
        {"transform": [{"filter": "datum.trt == 'VLP'"}], "mark": {"type": "tick", "orient": "horizontal", "size": 20, "thickness": 2.2, "opacity": 1},
         "encoding": {"color": {"condition": [{"test": "datum.grp == 'H5N1'", "value": "#B00000"}, {"test": "datum.grp == 'CA/07'", "value": "#0000FF"}], "value": "#0F8A0F"}}},
        {"mark": {"type": "point", "opacity": 1},
         "encoding": {
          "shape": {"condition": [{"test": "datum.grp == 'H5N1'", "value": "circle"}, {"test": "datum.grp == 'CA/07'", "value": "square"}], "value": "triangle-up"},
          "stroke": {"condition": [{"test": "datum.grp == 'H5N1'", "value": "#B00000"}, {"test": "datum.grp == 'CA/07'", "value": "#0000FF"}], "value": "#0F8A0F"},
          "fill": {"condition": {"test": "datum.grp == 'PR8' && datum.trt == 'VLP'", "value": "#0F8A0F"}, "value": "white"},
          "size": {"condition": {"test": "datum.trt == 'VLP'", "value": 75}, "value": 40},
          "strokeWidth": {"condition": {"test": "datum.trt == 'VLP'", "value": 2.5}, "value": 1}
         }},
        {"mark": {"type": "text", "align": "left", "baseline": "middle", "dx": 12, "fontSize": 21, "fontWeight": "bold"},
         "encoding": {"text": {"field": "trt"}, "color": {"condition": [{"test": "datum.grp == 'H5N1'", "value": "#D33A3A"}, {"test": "datum.grp == 'CA/07'", "value": "#2B2A7F"}], "value": "#1F9A4F"}}}
       ]
      },
      {
       "data": {"values": [{"grp":"H5N1","col":0,"row":0.5},{"grp":"CA/07","col":0,"row":2.5},{"grp":"PR8","col":1,"row":0.5}]},
       "encoding": {
        "x": {"field": "col", "type": "quantitative", "scale": {"domain": [-0.06, 1.687], "nice": false, "zero": false}, "axis": null},
        "y": {"field": "row", "type": "quantitative", "scale": {"domain": [-0.5, 3.5], "reverse": true, "nice": false, "zero": false}, "axis": null}
       },
       "layer": [
        {"mark": {"type": "text", "align": "left", "baseline": "middle", "dx": 57, "fontSize": 44, "fontWeight": "normal", "color": "black"}, "encoding": {"text": {"value": "}"}}},
        {"mark": {"type": "text", "align": "left", "baseline": "middle", "dx": 71, "fontSize": 21, "fontWeight": "bold"},
         "encoding": {"text": {"field": "grp"}, "color": {"condition": [{"test": "datum.grp == 'H5N1'", "value": "#D33A3A"}, {"test": "datum.grp == 'CA/07'", "value": "#2B2A7F"}], "value": "#1F9A4F"}}}
       ]
      }
     ]
    }
    ]
    },
    {
    "spacing": 0,
    "resolve": {"scale": {"color": "independent", "stroke": "independent", "fill": "independent", "shape": "independent", "size": "independent", "strokeWidth": "independent"}, "legend": {"color": "independent", "stroke": "independent", "fill": "independent", "shape": "independent", "size": "independent", "strokeWidth": "independent"}},
    "hconcat": [
    {"width": 1, "height": 1, "view": {"stroke": null, "fill": null}, "data": {"values": [{}]}, "mark": {"type": "point", "opacity": 0, "size": 0, "strokeWidth": 0}, "encoding": {}},
    {
     "width": 270, "height": 168,
     "title": {"text": " ", "fontSize": 2, "dx": -88, "offset": 0},
     "data": {"values": [
      {"grp":"H5N1","trt":"VLP","d":0,"p":100},{"grp":"H5N1","trt":"VLP","d":1,"p":100.5},{"grp":"H5N1","trt":"VLP","d":2,"p":101.8},{"grp":"H5N1","trt":"VLP","d":3,"p":100},{"grp":"H5N1","trt":"VLP","d":4,"p":99.1},{"grp":"H5N1","trt":"VLP","d":5,"p":98.2},{"grp":"H5N1","trt":"VLP","d":6,"p":97.0},{"grp":"H5N1","trt":"VLP","d":7,"p":96.6},{"grp":"H5N1","trt":"VLP","d":8,"p":99.4},{"grp":"H5N1","trt":"VLP","d":9,"p":98.1},{"grp":"H5N1","trt":"VLP","d":10,"p":99.9},{"grp":"H5N1","trt":"VLP","d":11,"p":100.6},{"grp":"H5N1","trt":"VLP","d":12,"p":100.6},{"grp":"H5N1","trt":"VLP","d":13,"p":100.6},{"grp":"H5N1","trt":"VLP","d":14,"p":100.3},
      {"grp":"H5N1","trt":"PBS","d":0,"p":100},{"grp":"H5N1","trt":"PBS","d":1,"p":103},{"grp":"H5N1","trt":"PBS","d":2,"p":99.3},{"grp":"H5N1","trt":"PBS","d":3,"p":90.3},{"grp":"H5N1","trt":"PBS","d":4,"p":83.3},{"grp":"H5N1","trt":"PBS","d":5,"p":78.8},
      {"grp":"CA/07","trt":"VLP","d":0,"p":100},{"grp":"CA/07","trt":"VLP","d":1,"p":96.1},{"grp":"CA/07","trt":"VLP","d":2,"p":85.6},{"grp":"CA/07","trt":"VLP","d":3,"p":82.1},{"grp":"CA/07","trt":"VLP","d":4,"p":77.2},{"grp":"CA/07","trt":"VLP","d":5,"p":75.2},{"grp":"CA/07","trt":"VLP","d":6,"p":76.6},{"grp":"CA/07","trt":"VLP","d":7,"p":81.5},{"grp":"CA/07","trt":"VLP","d":8,"p":86.5},{"grp":"CA/07","trt":"VLP","d":9,"p":88.1},{"grp":"CA/07","trt":"VLP","d":10,"p":89.9},{"grp":"CA/07","trt":"VLP","d":11,"p":91.2},{"grp":"CA/07","trt":"VLP","d":12,"p":90.7},{"grp":"CA/07","trt":"VLP","d":13,"p":92.9},{"grp":"CA/07","trt":"VLP","d":14,"p":94.8},
      {"grp":"CA/07","trt":"PBS","d":0,"p":100},{"grp":"CA/07","trt":"PBS","d":1,"p":94.5},{"grp":"CA/07","trt":"PBS","d":2,"p":84.8},{"grp":"CA/07","trt":"PBS","d":3,"p":78.7},{"grp":"CA/07","trt":"PBS","d":4,"p":73.1},
      {"grp":"PR8","trt":"VLP","d":0,"p":100},{"grp":"PR8","trt":"VLP","d":1,"p":103.2},{"grp":"PR8","trt":"VLP","d":2,"p":98.1},{"grp":"PR8","trt":"VLP","d":3,"p":90.1},{"grp":"PR8","trt":"VLP","d":4,"p":84.4},{"grp":"PR8","trt":"VLP","d":5,"p":81.7},{"grp":"PR8","trt":"VLP","d":6,"p":79.4},{"grp":"PR8","trt":"VLP","d":7,"p":88.9},{"grp":"PR8","trt":"VLP","d":8,"p":89.5},{"grp":"PR8","trt":"VLP","d":9,"p":108.7},{"grp":"PR8","trt":"VLP","d":10,"p":110.5},{"grp":"PR8","trt":"VLP","d":11,"p":114.0},{"grp":"PR8","trt":"VLP","d":12,"p":112.8},{"grp":"PR8","trt":"VLP","d":13,"p":115.2},{"grp":"PR8","trt":"VLP","d":14,"p":112.8},
      {"grp":"PR8","trt":"PBS","d":0,"p":100},{"grp":"PR8","trt":"PBS","d":1,"p":103},{"grp":"PR8","trt":"PBS","d":2,"p":99},{"grp":"PR8","trt":"PBS","d":3,"p":90.5},{"grp":"PR8","trt":"PBS","d":4,"p":84},{"grp":"PR8","trt":"PBS","d":5,"p":79.3},{"grp":"PR8","trt":"PBS","d":6,"p":76.4},{"grp":"PR8","trt":"PBS","d":7,"p":72.8}
     ]},
     "encoding": {
      "x": {"field": "d", "type": "quantitative", "scale": {"domain": [0, 14], "nice": false, "zero": false}, "axis": {"title": "days after infection", "values": [0,2,4,6,8,10,12,14], "labelFontSize": 21, "titleFontSize": 21, "titlePadding": 6, "tickSize": 6}},
      "y": {"field": "p", "type": "quantitative", "scale": {"domain": [60, 120], "nice": false, "zero": false}, "axis": {"title": "Body weight (%)", "values": [65,75,85,95,105,115], "labelFontSize": 21, "titleFontSize": 20, "titlePadding": 3}}
     },
     "layer": [
      {"mark": {"type": "line"}, "encoding": {
        "detail": {"field": "trt", "type": "nominal"},
        "stroke": {"field": "grp", "type": "nominal", "scale": {"domain": ["H5N1","CA/07","PR8"], "range": ["#B00000","#0000FF","#0F8A0F"]}, "legend": null},
        "strokeWidth": {"field": "trt", "type": "ordinal", "scale": {"domain": ["PBS","VLP"], "range": [1, 2.2]}, "legend": null}}},
      {"data": {"values": [{"grp":"CA/07","trt":"VLP","d":6,"p":76.6,"lo":73.5},{"grp":"CA/07","trt":"VLP","d":7,"p":81.5,"lo":77.7},{"grp":"PR8","trt":"VLP","d":7,"p":88.9,"lo":72.8},{"grp":"PR8","trt":"VLP","d":8,"p":89.5,"lo":71}]},
       "mark": {"type": "rule", "strokeWidth": 1.2}, "encoding": {"y2": {"field": "lo"},
        "stroke": {"field": "grp", "type": "nominal", "scale": {"domain": ["H5N1","CA/07","PR8"], "range": ["#B00000","#0000FF","#0F8A0F"]}, "legend": null}}},
      {"mark": {"type": "point", "opacity": 1}, "encoding": {
        "shape": {"field": "grp", "type": "nominal", "scale": {"domain": ["H5N1","CA/07","PR8"], "range": ["circle","square","triangle-up"]}, "legend": null},
        "stroke": {"field": "grp", "type": "nominal", "scale": {"domain": ["H5N1","CA/07","PR8"], "range": ["#B00000","#0000FF","#0F8A0F"]}, "legend": null},
        "strokeWidth": {"field": "trt", "type": "ordinal", "scale": {"domain": ["PBS","VLP"], "range": [1, 2.2]}, "legend": null},
        "size": {"field": "trt", "type": "ordinal", "scale": {"domain": ["PBS","VLP"], "range": [40, 75]}, "legend": null},
        "fill": {"condition": {"test": "datum.grp == 'PR8' && datum.trt == 'VLP'", "value": "#0F8A0F"}, "value": "transparent"}}}
     ]
    }
    ]
    }
   ]
  }
  ]
 }
 ]
}
]
}
